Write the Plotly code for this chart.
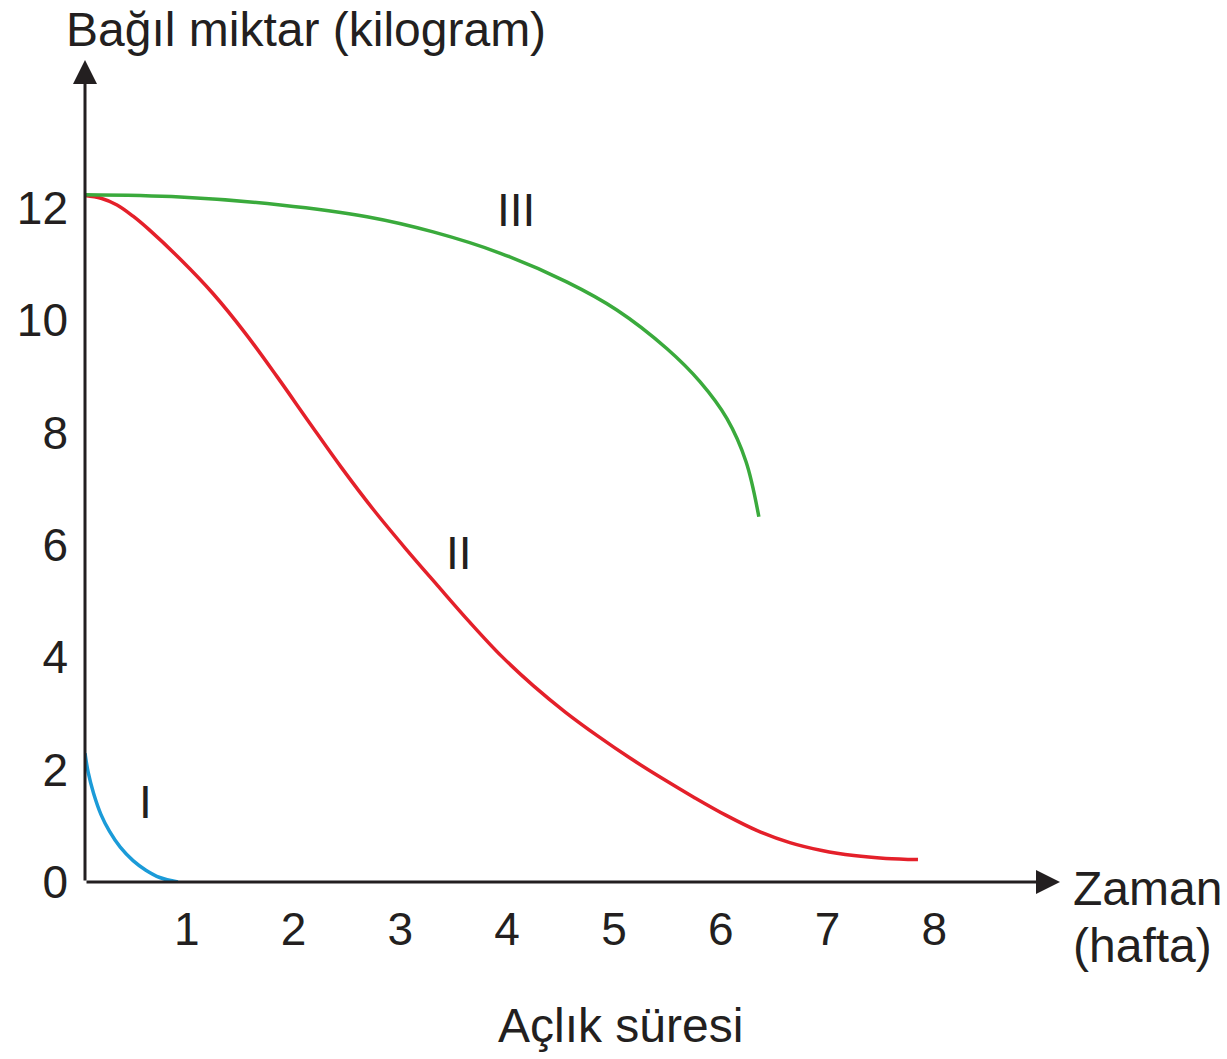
import plotly.graph_objects as go

# ---- data ----
x_ticks = [1, 2, 3, 4, 5, 6, 7, 8]
y_ticks = [0, 2, 4, 6, 8, 10, 12]

curve_I_x = [0, 0.03, 0.08, 0.15, 0.23, 0.33, 0.45, 0.57, 0.70, 0.87]
curve_I_y = [2.29, 1.95, 1.58, 1.20, 0.90, 0.62, 0.38, 0.21, 0.08, 0.0]

curve_II_x = [0.0, 0.15, 0.3, 0.45, 0.6, 0.9, 1.2, 1.5, 1.8, 2.1, 2.4, 2.7, 3.0, 3.3, 3.6, 3.9,
              4.2, 4.5, 4.8, 5.1, 5.4, 5.7, 6.0, 6.3, 6.6, 6.9, 7.2, 7.5, 7.8]
curve_II_y = [12.22, 12.17, 12.05, 11.85, 11.61, 11.07, 10.47, 9.77, 8.99, 8.18, 7.38, 6.63, 5.94, 5.28, 4.63, 4.02,
              3.49, 3.02, 2.60, 2.21, 1.85, 1.51, 1.19, 0.91, 0.70, 0.56, 0.47, 0.42, 0.40]

curve_III_x = [0, 0.89, 1.83, 2.64, 3.26, 3.89, 4.51, 4.98, 5.45, 5.76, 6.01, 6.19, 6.31]
curve_III_y = [12.23, 12.19, 12.05, 11.84, 11.57, 11.19, 10.68, 10.18, 9.49, 8.90, 8.25, 7.48, 6.50]

labels = ["I", "II", "III"]
label_x = [0.57, 3.50, 4.04]
label_y = [1.42, 5.85, 11.96]

FONT = "Liberation Sans, Arial, Helvetica, sans-serif"
INK = "#231f20"
FS = 46
FS_TITLE = 48

X_MAX = 9.13
Y_MAX = 14.63

fig = go.Figure()
fig.add_trace(go.Scatter(x=curve_I_x, y=curve_I_y, mode="lines",
                         line=dict(color="#1b9bd8", width=3.5, shape="spline", smoothing=1),
                         cliponaxis=False, showlegend=False))
fig.add_trace(go.Scatter(x=curve_II_x, y=curve_II_y, mode="lines",
                         line=dict(color="#e4202a", width=3.5, shape="spline", smoothing=1),
                         cliponaxis=False, showlegend=False))
fig.add_trace(go.Scatter(x=curve_III_x, y=curve_III_y, mode="lines",
                         line=dict(color="#3aaa3c", width=3.5, shape="spline", smoothing=1),
                         cliponaxis=False, showlegend=False))

annotations = []
# axes with arrow heads
annotations.append(dict(x=X_MAX, y=0, ax=0, ay=0, xref="x", yref="y", axref="x", ayref="y",
                        showarrow=True, arrowhead=2, arrowsize=1.6, arrowwidth=3,
                        arrowcolor=INK, text="", standoff=0, startstandoff=0))
annotations.append(dict(x=0, y=Y_MAX, ax=0, ay=0, xref="x", yref="y", axref="x", ayref="y",
                        showarrow=True, arrowhead=2, arrowsize=1.6, arrowwidth=3,
                        arrowcolor=INK, text="", standoff=0, startstandoff=0))
for t, lx, ly in zip(labels, label_x, label_y):
    annotations.append(dict(x=lx, y=ly, xref="x", yref="y", text=t, showarrow=False,
                            font=dict(family=FONT, size=FS, color=INK)))

# positions below are screen pixels (body margin removed in the page)
pix_texts = [
    ("Bağıl miktar (kilogram)", 64, 30, "left"),
    ("Açlık süresi", 620, 1025, "center"),
    ("Zaman", 1071, 888, "left"),
    ("(hafta)", 1071, 945, "left"),
]

W, H = 1227, 1059
L, R, T, B = 85, W - 1060, 60, H - 882
for txt, px, py, anc in pix_texts:
    annotations.append(dict(
        x=(px - L) / (W - L - R),
        y=(H - py - B) / (H - T - B),
        xref="paper", yref="paper", text=txt, showarrow=False,
        xanchor=anc, yanchor="middle",
        font=dict(family=FONT, size=FS_TITLE, color=INK)))

fig.update_layout(
    width=W, height=H,
    margin=dict(l=L, r=R, t=T, b=B, pad=0),
    paper_bgcolor="white", plot_bgcolor="white",
    font=dict(family=FONT, size=FS, color=INK),
    annotations=annotations,
    xaxis=dict(range=[0, X_MAX], tickvals=x_ticks, ticktext=[str(v) for v in x_ticks],
               showgrid=False, zeroline=False, showline=False, ticks="",
               ticklabelstandoff=16, ticklabelshift=-5,
               tickfont=dict(family=FONT, size=FS, color=INK)),
    yaxis=dict(range=[0, Y_MAX], tickvals=y_ticks, ticktext=[str(v) for v in y_ticks],
               showgrid=False, zeroline=False, showline=False, ticks="",
               ticklabelstandoff=16,
               tickfont=dict(family=FONT, size=FS, color=INK)),
)

fig.write_html("out.html", config={"displayModeBar": False},
               post_script="document.body.style.margin='0px';document.body.style.overflow='hidden';")
